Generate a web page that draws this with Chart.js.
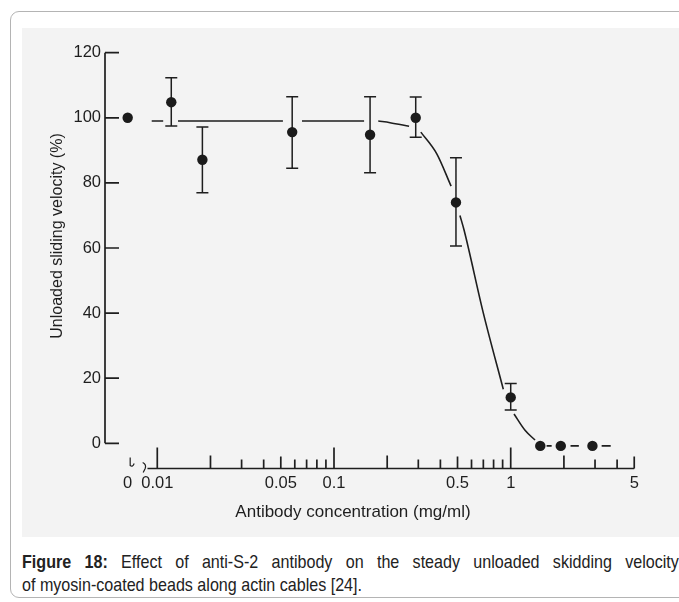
<!DOCTYPE html>
<html>
<head>
<meta charset="utf-8">
<script src="https://cdn.jsdelivr.net/npm/chart.js@4.4.1/dist/chart.umd.min.js"></script>
<style>
  body { margin: 0; background: #fff; width: 679px; height: 602px; overflow: hidden; position: relative;
         font-family: "Liberation Sans", Arial, sans-serif; }
  .frame { position: absolute; left: 10px; top: 11px; width: 700px; height: 585px;
           border: 1px solid #b4b4b4; border-radius: 9px; }
  .plot { position: absolute; left: 22px; top: 28px; width: 657px; height: 509px; background: #f3f3f3; }
  /* the printed caption is a narrow face; squeeze a regular one */
  .caption { position: absolute; left: 22px; top: 551px; width: 755px; font-size: 18.5px; line-height: 22.5px;
             color: #222; transform: scale(0.87, 1); transform-origin: left top; }
  .caption .l1 { text-align: justify; text-align-last: justify; white-space: nowrap; }
</style>
</head>
<body>
<div class="frame"></div>
<div class="plot"><canvas id="chart" width="657" height="509"></canvas></div>
<div class="caption">
  <div class="l1"><b>Figure 18:</b> Effect of anti-S-2 antibody on the steady unloaded skidding velocity</div>
  <div>of myosin-coated beads along actin cables [24].</div>
</div>

<script>
// measured points, antibody conc in mg/ml (0 = control, shown left of the axis break)
const concentration = [0, 0.012, 0.018, 0.058, 0.16, 0.29, 0.49, 1.0, 1.47, 1.92, 2.9];
const velocity = [100, 104.8, 87.1, 95.6, 94.8, 100, 74.0, 14.1, -0.8, -0.8, -0.8];
const errLow = [null, 97.5, 77.0, 84.5, 83.1, 94.0, 60.6, 10.2, null, null, null];
const errHigh = [null, 112.3, 97.2, 106.5, 106.5, 106.4, 87.7, 18.4, null, null, null];

// hand-drawn fit curve, null = pen lifted
const fitConc = [0.0093, 0.0108, null, 0.0131, 0.0514, null, 0.0659, 0.148, null,
                 0.178, 0.2075, 0.266, null, 0.31, 0.381, 0.46, null,
                 0.516, 0.544, 0.70, 0.908, null, 1.044, 1.205, 1.373, null,
                 1.596, 1.705, null, 2.18, 2.43, null, 3.27, 3.68];
const fitVel = [99, 99, null, 99, 99, null, 99, 99, null,
                99, 98.5, 97.4, null, 95.6, 89, 79, null,
                70, 65.6, 40, 16.6, null, 9, 4, 1, null,
                -0.8, -0.8, null, -0.8, -0.8, null, -0.8, -0.8];

// axis ticks
const ZERO_AT = 0.0068; // where "0" sits on the broken log axis
const xTickValues = [ZERO_AT, 0.01, 0.02, 0.03, 0.04, 0.05, 0.06, 0.07, 0.08, 0.09,
                     0.1, 0.2, 0.3, 0.4, 0.5, 0.6, 0.7, 0.8, 0.9, 1, 2, 3, 4, 5];
const xTickLabels = xTickValues.map(v => v === ZERO_AT ? '0' :
  ({0.01: '0.01', 0.05: '0.05', 0.1: '0.1', 0.5: '0.5', 1: '1', 5: '5'}[v] || ''));
const yTicks = [0, 20, 40, 60, 80, 100, 120];

const ink = '#1e1e1e';
const fontFamily = '"Liberation Sans", Arial, sans-serif';
const plotConc = concentration.map(c => c === 0 ? ZERO_AT : c);

// axes are drawn by hand: y stops at 0, x starts after the break, ticks point inward
const handAxes = {
  id: 'handAxes',
  beforeDatasetsDraw(chart) {
    const { ctx, chartArea, scales: { x, y } } = chart;
    ctx.save();
    ctx.strokeStyle = ink;
    ctx.lineWidth = 1.7;

    // y axis
    const left = chartArea.left;
    ctx.beginPath();
    ctx.moveTo(left, y.getPixelForValue(yTicks[yTicks.length - 1]));
    ctx.lineTo(left, y.getPixelForValue(yTicks[0]));
    yTicks.forEach(v => {
      const p = y.getPixelForValue(v);
      ctx.moveTo(left, p);
      ctx.lineTo(left + 14, p);
    });
    ctx.stroke();

    // x axis
    const base = chartArea.bottom;
    ctx.beginPath();
    ctx.moveTo(x.getPixelForValue(0.0088), base);
    ctx.lineTo(x.getPixelForValue(5), base);
    xTickValues.forEach(v => {
      if (v === ZERO_AT) return;
      const lg = Math.log10(v);
      const m = Math.round(v / Math.pow(10, Math.floor(lg + 1e-9)));
      let len = 9;
      if (m === 1) len = 21;
      else if (m === 2) len = 13;
      else if (m === 5) len = 12;
      const p = x.getPixelForValue(v);
      ctx.moveTo(p, base);
      ctx.lineTo(p, base - len);
    });
    ctx.stroke();

    // axis break marks
    const z = x.getPixelForValue(ZERO_AT);
    ctx.lineWidth = 1.2;
    ctx.beginPath();
    ctx.moveTo(z + 2.5, base - 11);
    ctx.lineTo(z + 2.5, base - 3);
    ctx.quadraticCurveTo(z + 5, base - 1, z + 6.5, base - 5);
    ctx.moveTo(z + 15, base - 6);
    ctx.quadraticCurveTo(z + 19, base - 4, z + 17.5, base);
    ctx.quadraticCurveTo(z + 16, base + 3, z + 15.5, base + 4);
    ctx.stroke();

    // error bars
    ctx.lineWidth = 1.5;
    ctx.beginPath();
    plotConc.forEach((c, i) => {
      if (errLow[i] === null) return;
      const px = x.getPixelForValue(c);
      const hi = y.getPixelForValue(errHigh[i]);
      const lo = y.getPixelForValue(errLow[i]);
      ctx.moveTo(px, hi); ctx.lineTo(px, lo);
      ctx.moveTo(px - 6, hi); ctx.lineTo(px + 6, hi);
      ctx.moveTo(px - 6, lo); ctx.lineTo(px + 6, lo);
    });
    ctx.stroke();

    // axis titles
    ctx.fillStyle = ink;
    ctx.textAlign = 'center';
    ctx.textBaseline = 'middle';
    ctx.font = '17px ' + fontFamily;
    ctx.fillText('Antibody concentration (mg/ml)', left + 248, base + 43.5);
    ctx.font = '16px ' + fontFamily;
    ctx.translate(left - 47.5, (y.getPixelForValue(0) + y.getPixelForValue(120)) / 2 - 12);
    ctx.rotate(-Math.PI / 2);
    ctx.fillText('Unloaded sliding velocity (%)', 0, 0);
    ctx.restore();
  }
};

new Chart(document.getElementById('chart'), {
  type: 'scatter',
  data: {
    datasets: [{
      data: fitConc.map((c, i) => ({ x: c, y: fitVel[i] })),
      showLine: true,
      spanGaps: false,
      cubicInterpolationMode: 'monotone',
      borderColor: ink,
      borderWidth: 1.6,
      pointRadius: 0
    }, {
      data: plotConc.map((c, i) => ({ x: c, y: velocity[i] })),
      showLine: false,
      pointRadius: 5.2,
      pointBackgroundColor: '#1b1b1b',
      pointBorderColor: '#1b1b1b',
      pointBorderWidth: 0
    }]
  },
  options: {
    responsive: false,
    animation: false,
    layout: { padding: { left: 0, top: 24.7, right: 39, bottom: 0 } },
    plugins: { legend: { display: false }, tooltip: { enabled: false } },
    scales: {
      x: {
        type: 'logarithmic',
        min: 0.00506,
        max: 5.39,
        grid: { display: false, drawTicks: false },
        border: { display: false },
        afterBuildTicks: s => { s.ticks = xTickValues.map(v => ({ value: v })); },
        afterFit: s => { s.height = 68.5; },
        ticks: {
          autoSkip: false, maxRotation: 0, minRotation: 0, padding: 5,
          color: ink, font: { size: 16.5, family: fontFamily },
          callback: (v, i) => xTickLabels[i]
        }
      },
      y: {
        min: -7.74,
        max: 120,
        grid: { display: false, drawTicks: false },
        border: { display: false },
        afterBuildTicks: s => { s.ticks = yTicks.map(v => ({ value: v })); },
        afterFit: s => { s.width = 83; },
        ticks: { padding: 4, color: ink, font: { size: 16.5, family: fontFamily } }
      }
    }
  },
  plugins: [handAxes]
});
</script>
</body>
</html>
